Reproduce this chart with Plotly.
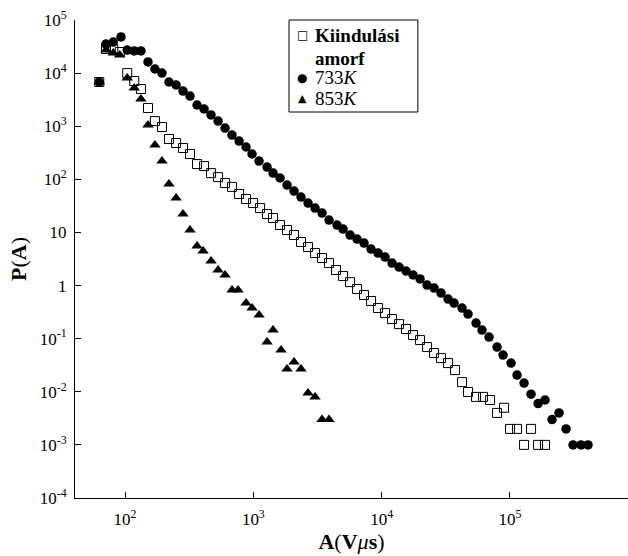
import plotly.graph_objects as go

# Kiindulási amorf (open squares)
sq_A = [63, 71, 81, 91, 104, 118, 133, 151, 171, 194, 220, 250, 283, 321, 364, 413, 468, 531, 602, 682,
        774, 877, 995, 1128, 1279, 1424, 1615, 1830, 2076, 2353, 2669, 3026, 3431, 3890, 4411, 5002,
        5671, 6429, 7290, 8267, 9374, 10630, 12050, 13660, 15490, 17570, 19920, 22590, 25610, 29040,
        32930, 37330, 42330, 47140, 54410, 61660, 69970, 79330, 89950, 100100, 113600, 128800,
        146000, 165600, 187700]
sq_P = [6800, 28400, 28400, 25000, 10000, 7100, 5020, 2200, 1250, 966, 574, 483, 389, 300, 194, 178,
        131, 110, 85, 72, 53, 42.6, 35.8, 28.8, 22.2, 18.7, 13.8, 11.1, 8.94, 6.60, 5.31, 4.09, 3.30,
        2.65, 1.96, 1.51, 1.16, 0.86, 0.663, 0.511, 0.377, 0.303, 0.234, 0.188, 0.152, 0.117, 0.0941,
        0.0695, 0.0536, 0.0431, 0.0347, 0.0256, 0.0152, 0.0099, 0.008, 0.008, 0.007, 0.004, 0.005,
        0.002, 0.002, 0.001, 0.002, 0.001, 0.001]

# 733K (filled circles)
c_A = [63, 71, 81, 93, 104, 118, 133, 151, 171, 194, 220, 250, 283, 321, 364, 413, 468, 531, 602, 682,
       774, 877, 977, 1108, 1279, 1424, 1615, 1830, 2076, 2353, 2669, 3026, 3431, 3890, 4490, 5002,
       5671, 6429, 7290, 8267, 9374, 10630, 12050, 13660, 15490, 17570, 19920, 22590, 25610, 29040,
       32930, 36670, 42330, 47140, 54410, 60600, 68710, 79330, 88350, 102000, 113600, 128800,
       146000, 165600, 187700, 212800, 241300, 273600, 310200, 358100, 406100]
c_P = [6800, 35300, 38500, 47900, 27200, 26100, 26100, 16200, 11950, 10040, 6800, 5970, 4600, 3700,
       2510, 2110, 1630, 1250, 925, 683, 526, 406, 300, 221, 170, 131, 106, 78.1, 60.2, 46.4, 35.8,
       28.8, 23.2, 17.1, 13.8, 11.6, 8.94, 7.51, 6.32, 4.87, 4.09, 3.44, 2.65, 2.23, 1.88, 1.58, 1.33,
       1.02, 0.897, 0.723, 0.557, 0.468, 0.377, 0.291, 0.197, 0.145, 0.107, 0.0695, 0.0491, 0.0347,
       0.0206, 0.0146, 0.009, 0.006, 0.007, 0.003, 0.004, 0.002, 0.001, 0.001, 0.001]

# 853K (filled triangles)
t_A = [63, 71, 81, 91, 104, 118, 133, 151, 171, 194, 220, 250, 283, 321, 364, 406, 468, 531, 602, 682,
       760, 877, 977, 1108, 1279, 1424, 1644, 1830, 2076, 2353, 2669, 3026, 3431, 3890]
t_P = [6800, 27200, 23900, 21900, 8100, 5240, 3250, 1053, 443, 221, 81.6, 44.4, 22.2, 11.1, 5.55, 4.46,
       2.89, 1.96, 1.58, 0.823, 0.823, 0.468, 0.377, 0.278, 0.0863, 0.145, 0.061, 0.0268, 0.0363,
       0.0268, 0.0095, 0.008, 0.003, 0.003]

series_names = ["<b>Kiindulási</b>", "<b>amorf</b>", "733<i>K</i>", "853<i>K</i>"]
legend_glyphs = ["□", "", "●", "▲"]

x_tickvals = [1e2, 1e3, 1e4, 1e5]
x_ticktext = ["10<sup>2</sup>", "10<sup>3</sup>", "10<sup>4</sup>", "10<sup>5</sup>"]
y_tickvals = [1e5, 1e4, 1e3, 1e2, 10, 1, 1e-1, 1e-2, 1e-3, 1e-4]
y_ticktext = ["10<sup>5</sup>", "10<sup>4</sup>", "10<sup>3</sup>", "10<sup>2</sup>", "10", "1",
              "10<sup>-1</sup>", "10<sup>-2</sup>", "10<sup>-3</sup>", "10<sup>-4</sup>"]

serif = "Liberation Serif, Times New Roman, serif"

fig = go.Figure()
fig.add_trace(go.Scatter(x=sq_A, y=sq_P, mode="markers", name="Kiindulási amorf",
                         marker=dict(symbol="square-open", size=9, color="black",
                                     line=dict(width=1, color="black"))))
fig.add_trace(go.Scatter(x=c_A, y=c_P, mode="markers", name="733K",
                         marker=dict(symbol="circle", size=9.5, color="black")))
fig.add_trace(go.Scatter(x=t_A, y=t_P, mode="markers", name="853K",
                         marker=dict(symbol="triangle-up", size=10, color="black")))

# legend box drawn in paper coordinates
fig.add_shape(type="rect", xref="paper", yref="paper", x0=0.387, x1=0.620, y0=0.8075, y1=1.0,
              line=dict(color="black", width=1), fillcolor="white", layer="above")
row_y = [0.9686, 0.9205, 0.8787, 0.8368]
glyph_sizes = [12, 12, 12, 11]
for name, glyph, yy, gs in zip(series_names, legend_glyphs, row_y, glyph_sizes):
    if glyph:
        fig.add_annotation(xref="paper", yref="paper", x=0.4105, y=yy, text=glyph, showarrow=False,
                           xanchor="center", yanchor="middle",
                           font=dict(family="DejaVu Sans", size=gs, color="black"))
    fig.add_annotation(xref="paper", yref="paper", x=0.430, y=yy, text=name, showarrow=False,
                       xanchor="left", yanchor="middle",
                       font=dict(family=serif, size=19, color="black"))

fig.update_layout(
    width=628, height=556,
    margin=dict(l=75, r=0, t=20, b=58),
    paper_bgcolor="white", plot_bgcolor="white",
    font=dict(family=serif, size=17, color="black"),
    showlegend=False,
)
fig.update_xaxes(type="log", range=[1.61, 5.92], showline=True, linecolor="black", linewidth=1,
                 ticks="inside", ticklen=6, tickcolor="black", showgrid=False, zeroline=False,
                 tickvals=x_tickvals, ticktext=x_ticktext, tickfont=dict(family=serif, size=17),
                 ticklabelstandoff=6,
                 title=dict(text="<b>A</b>(<b>V</b><i>μ</i><b>s</b>)", font=dict(family=serif, size=22),
                            standoff=4))
fig.update_yaxes(type="log", range=[-4, 5], showline=True, linecolor="black", linewidth=1,
                 ticks="inside", ticklen=6, tickcolor="black", showgrid=False, zeroline=False,
                 tickvals=y_tickvals, ticktext=y_ticktext, tickfont=dict(family=serif, size=17),
                 ticklabelstandoff=4,
                 title=dict(text="<b>P</b>(<b>A</b>)", font=dict(family=serif, size=22), standoff=6))

fig.write_html("out.html")
